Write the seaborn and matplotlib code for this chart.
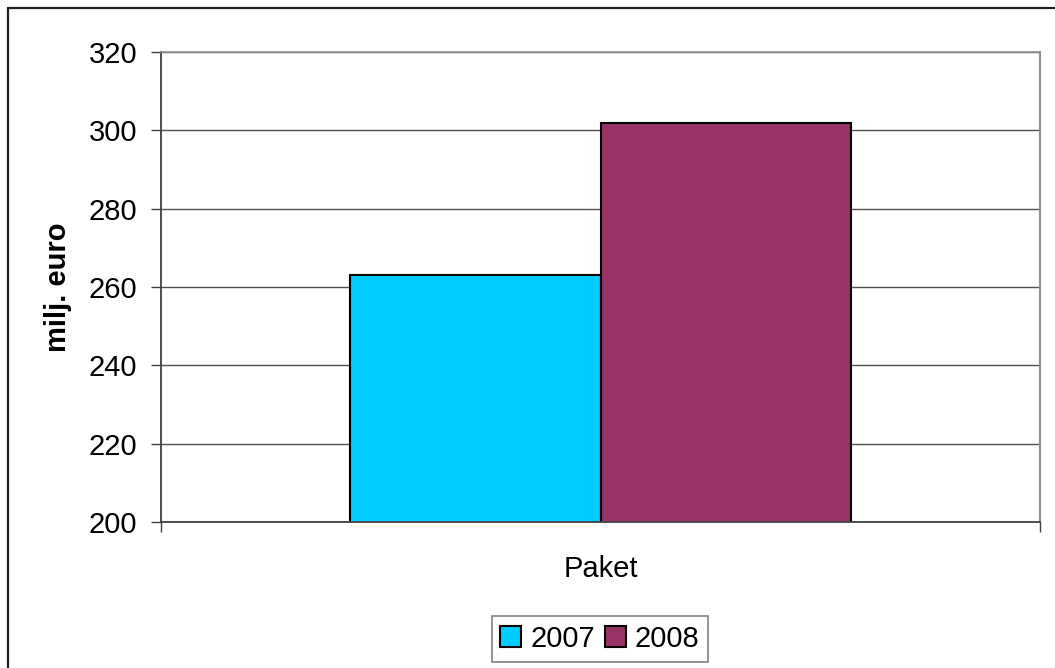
import matplotlib
matplotlib.use("Agg")
import matplotlib.pyplot as plt
from matplotlib.lines import Line2D
import seaborn as sns
import pandas as pd

categories = ["Paket", "Paket"]
years = ["2007", "2008"]
values = [263, 302]
colors = ["#00CCFF", "#993366"]
y_ticks = [200, 220, 240, 260, 280, 300, 320]

df = pd.DataFrame({"cat": categories, "year": years, "value": values})

sns.set_theme(style="white")
plt.rcParams["font.family"] = ["Liberation Sans", "DejaVu Sans"]
plt.rcParams["text.color"] = "black"
plt.rcParams["axes.labelcolor"] = "black"
plt.rcParams["xtick.color"] = "black"
plt.rcParams["ytick.color"] = "black"

W, H = 1055, 668
fig = plt.figure(figsize=(W / 100, H / 100), dpi=100)
ax = fig.add_axes([161 / W, 1 - 522 / H, (1040 - 161) / W, (522 - 52) / H])

sns.barplot(data=df, x="cat", y="value", hue="year", palette=colors,
            width=0.571, gap=0, edgecolor="black", linewidth=1.5,
            saturation=1, ax=ax)

FS = 21
ax.set_ylim(200, 320)
ax.set_xlim(-0.5, 0.5)
ax.set_yticks(y_ticks)
ax.set_yticklabels([str(t) for t in y_ticks], fontsize=FS, color="black")
ax.set_xticks([-0.5, 0.5])
ax.set_xticklabels(["", ""])
ax.tick_params(axis="x", length=7, width=1, color="#404040", direction="out", bottom=True)
ax.tick_params(axis="y", length=7, width=1, color="#404040", direction="out", left=True, pad=10)
ax.yaxis.grid(True, color="#505050", linewidth=1)
ax.set_axisbelow(True)
for side in ["left", "bottom"]:
    ax.spines[side].set_color("#404040")
    ax.spines[side].set_linewidth(1.3)
ax.spines["right"].set_color("#909090")
ax.spines["right"].set_linewidth(1.5)
ax.spines["top"].set_color("#909090")
ax.spines["top"].set_linewidth(1.2)

ax.set_ylabel("milj. euro", fontsize=FS, fontweight="bold", labelpad=12, color="black")
ax.set_xlabel("Paket", fontsize=FS, labelpad=13, color="black")

sns.move_legend(ax, "center", bbox_to_anchor=(600 / W, 1 - 639 / H),
                bbox_transform=fig.transFigure, ncol=2, title=None,
                frameon=True, fontsize=FS, handlelength=0.72, handleheight=0.72,
                handletextpad=0.3, columnspacing=0.35, borderpad=0.3,
                fancybox=False, edgecolor="#606060")
leg = ax.get_legend()
leg.get_frame().set_linewidth(1.2)
for t in leg.get_texts():
    t.set_color("black")
for h in leg.legend_handles:
    h.set_edgecolor("black")
    h.set_linewidth(1.5)

# outer chart border (left and top visible)
fig.add_artist(Line2D([8 / W, 8 / W], [0, 1 - 8 / H], transform=fig.transFigure,
                      color="#202020", linewidth=1.6))
fig.add_artist(Line2D([8 / W, 1], [1 - 8 / H, 1 - 8 / H], transform=fig.transFigure,
                      color="#202020", linewidth=1.6))

fig.savefig("out.png", dpi=100, facecolor="white")
